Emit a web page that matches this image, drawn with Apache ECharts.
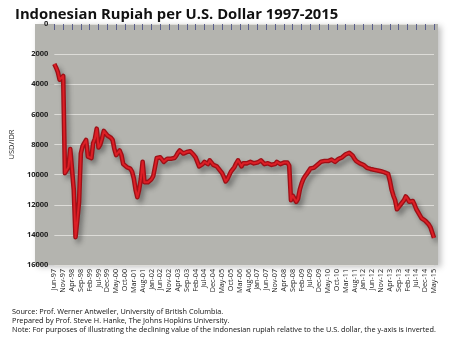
<!DOCTYPE html>
<html><head><meta charset="utf-8">
<script src="https://cdn.jsdelivr.net/npm/echarts@6/dist/echarts.min.js"></script>
<style>html,body{margin:0;padding:0;background:#fff}#c{width:450px;height:342px}</style>
</head><body><div id="c"></div>
<script>
// Monthly tick labels (every 5 months, Jun-97 .. May-15)
const tickLabels = ["Jun-97","Nov-97","Apr-98","Sep-98","Feb-99","Jul-99","Dec-99","May-00","Oct-00","Mar-01","Aug-01","Jan-02","Jun-02","Nov-02","Apr-03","Sep-03","Feb-04","Jul-04","Dec-04","May-05","Oct-05","Mar-06","Aug-06","Jan-07","Jun-07","Nov-07","Apr-08","Sep-08","Feb-09","Jul-09","Dec-09","May-10","Oct-10","Mar-11","Aug-11","Jan-12","Jun-12","Nov-12","Apr-13","Sep-13","Feb-14","Jul-14","Dec-14","May-15"];
const monthNames = ["Jan","Feb","Mar","Apr","May","Jun","Jul","Aug","Sep","Oct","Nov","Dec"];
// USD/IDR monthly values, Jun-97 .. May-15
const rates = [
2650,2900,3200,3700,3600,3450,9900,9700,9500,8300,8200,11000,14150,13000,11800,8600,8100,7900,7700,8800,
8700,8900,7900,7600,6950,8200,8000,7600,7100,7200,7400,7500,7550,7700,8300,8700,8600,8400,8700,9300,
9400,9500,9550,9600,9800,10250,11000,11500,11000,10300,9150,10500,10600,10500,10450,10300,10100,9500,8900,8800,
8850,9000,9150,9050,8950,8950,8950,8950,8900,8750,8550,8400,8500,8600,8550,8500,8500,8450,8500,8700,
8850,9150,9450,9350,9300,9150,9100,9300,9050,9200,9350,9450,9450,9600,9700,9900,10150,10450,10300,10050,
9800,9650,9500,9250,9050,9150,9450,9250,9200,9250,9200,9150,9150,9250,9350,9200,9100,9050,9100,9300,
9400,9250,9300,9350,9450,9300,9150,9200,9300,9350,9200,9150,9200,9400,11700,11400,11350,11800,11600,11000,
10600,10300,10100,9950,9900,9600,9500,9550,9500,9350,9250,9150,9200,9100,9150,9100,9050,9000,9100,9150,
9050,8950,8900,8850,8750,8650,8600,8550,8650,8750,8950,9100,9150,9250,9250,9350,9450,9550,9600,9620,
9650,9680,9700,9720,9750,9780,9800,9850,9900,9950,10400,11000,11400,11700,12300,12200,12000,11900,11700,11450,
11600,11800,11900,11750,12000,12300,12500,12700,12900,13000,13050,13100,13300,13500,13600,14200
];
const yTicks = [0,2000,4000,6000,8000,10000,12000,14000,16000];
const title = "Indonesian Rupiah per U.S. Dollar 1997-2015";
const notes = [
"Source: Prof. Werner Antweiler, University of British Columbia.",
"Prepared by Prof. Steve H. Hanke, The Johns Hopkins University.",
"Note: For purposes of illustrating the declining value of the Indonesian rupiah relative to the U.S. dollar, the y-axis is inverted."
];

const categories = rates.map((v,i)=>{
  const mi = (5 + i) % 12; const yr = 97 + Math.floor((5 + i)/12);
  return monthNames[mi] + "-" + String(yr % 100).padStart(2,"0");
});

const chart = echarts.init(document.getElementById('c'), null, {renderer:'canvas'});
chart.setOption({
  animation:false,
  backgroundColor:'#fff',
  title:{text:title,left:10,top:2,textStyle:{fontFamily:'Open Sans',fontWeight:'bold',fontSize:14.8,color:'#111'}},
  graphic:[
    {type:'rect',left:35,top:24,shape:{width:403,height:241},style:{fill:'#b4b4af',shadowBlur:6,shadowOffsetX:3,shadowOffsetY:2,shadowColor:'rgba(0,0,0,0.25)'},z:-10,silent:true},
    {type:'text',left:12,top:307,style:{text:notes.join('\n'),font:'7.3px "Open Sans"',fill:'#111',lineHeight:9}}
  ],
  grid:{left:37,right:16,top:24,bottom:77,containLabel:false},
  xAxis:{type:'category',data:categories,boundaryGap:false,
    axisLine:{show:false},
    axisTick:{show:true,interval:4,length:6,lineStyle:{color:'#5a5f8c',width:1}},
    axisLabel:{interval:4,rotate:90,fontSize:7.2,fontFamily:'Open Sans',color:'#222',margin:4,
      formatter:(v,i)=>tickLabels[i/5]!==undefined?tickLabels[i/5]:v},
    splitLine:{show:false}},
  yAxis:{type:'value',inverse:true,min:yTicks[0],max:yTicks[yTicks.length-1],interval:2000,
    name:'USD/IDR',nameLocation:'middle',nameGap:27,nameRotate:90,
    nameTextStyle:{fontSize:7.5,fontFamily:'Open Sans',color:'#222'},
    axisLine:{show:false},axisTick:{show:false},
    axisLabel:{fontSize:7.5,fontWeight:'bold',fontFamily:'Open Sans',color:'#222',margin:6,formatter:v=>String(v)},
    splitLine:{lineStyle:{color:'#dddcd8',width:1.2}}},
  series:[
    {type:'line',data:rates,symbol:'none',smooth:false,
      lineStyle:{color:'#9e0f16',width:4.6,join:'round',shadowBlur:5,shadowOffsetX:3,shadowOffsetY:4,shadowColor:'rgba(40,40,40,0.45)'},z:2},
    {type:'line',data:rates,symbol:'none',smooth:false,
      lineStyle:{color:'#dc1f26',width:2,join:'round'},z:3}
  ]
});
</script></body></html>
